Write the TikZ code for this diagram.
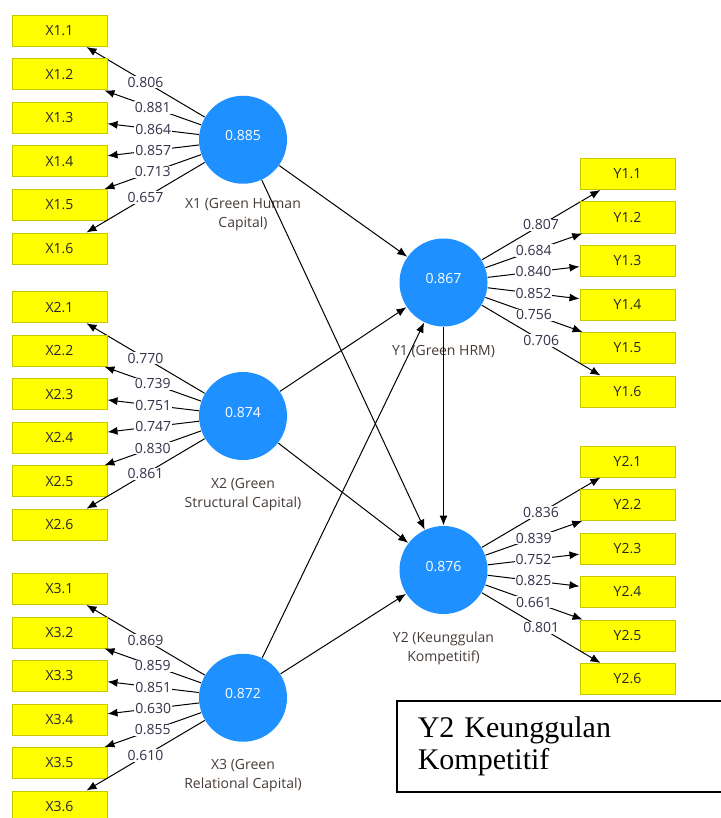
\documentclass[tikz,border=0pt]{standalone}
\usepackage{fontspec}
\setmainfont{Open Sans}
\newfontfamily\notefont{Liberation Serif}
\usetikzlibrary{positioning}
\usetikzlibrary{arrows.meta}

\definecolor{lvblue}{RGB}{30,144,255}
\definecolor{indyellow}{RGB}{255,255,0}
\definecolor{indborder}{RGB}{200,200,0}
\definecolor{loadtext}{RGB}{50,50,75}
\definecolor{nametext}{RGB}{70,60,55}

\tikzset{
  lv/.style = {circle, fill=lvblue, minimum size=88pt, inner sep=0pt, text=white,
               text height=10pt, text depth=8pt, font=\fontsize{14}{17}\selectfont},
  lvname/.style = {align=center, text=nametext, inner sep=0pt, font=\fontsize{14}{19}\selectfont},
  ind/.style = {rectangle, draw=indborder, line width=1pt, fill=indyellow, minimum width=95pt,
                minimum height=31pt, inner sep=0pt, text=black!85, font=\fontsize{14}{17}\selectfont},
  load/.style = {midway, fill=white, inner sep=1pt, text=loadtext, font=\fontsize{14}{17}\selectfont},
  notebox/.style = {draw=black, line width=1.5pt, anchor=north west, minimum width=340pt,
                    minimum height=91pt, text width=300pt, inner xsep=21pt, align=left,
                    font=\notefont\fontsize{30}{32}\selectfont}
}

\begin{document}
\begin{tikzpicture}[x=1pt, y=-1pt, line width=1pt, >={Latex[length=10pt,width=8pt]}]
\useasboundingbox (0,0) rectangle (720,818);

% latent variables
\node [lv] (x1) at (243, 139.75) {0.885};
\node [lv] (x2) at (243, 416) {0.874};
\node [lv] (x3) at (243, 697.75) {0.872};
\node [lv] (y1) at (443.5, 282.5) {0.867};
\node [lv] (y2) at (443.5, 570) {0.876};

\node [lvname, below=14pt of x1] (x1name) {X1 (Green Human\\Capital)};
\node [lvname, below=17pt of x2] (x2name) {X2 (Green\\Structural Capital)};
\node [lvname, below=17pt of x3] (x3name) {X3 (Green\\Relational Capital)};
\node [lvname, below=18pt of y1] (y1name) {Y1 (Green HRM)};
\node [lvname, below=17pt of y2] (y2name) {Y2 (Keunggulan\\Kompetitif)};

% inner model
\draw [black, ->] (x1)--(y1);
\draw [black, ->] (x1)--(y2);
\draw [black, ->] (x2)--(y1);
\draw [black, ->] (x2)--(y2);
\draw [black, ->] (x3)--(y1);
\draw [black, ->] (x3)--(y2);
\draw [black, ->] (y1)--(y2);

% outer model
\foreach \i/\v in {1/0.806, 2/0.881, 3/0.864, 4/0.857, 5/0.713, 6/0.657} {
  \node [ind] (x1-\i) at (59.5, {31+(\i-1)*43.5}) {X1.\i};
  \draw [black, ->] (x1)--(x1-\i) node [load] {\v};
}
\foreach \i/\v in {1/0.770, 2/0.739, 3/0.751, 4/0.747, 5/0.830, 6/0.861} {
  \node [ind] (x2-\i) at (59.5, {307.25+(\i-1)*43.5}) {X2.\i};
  \draw [black, ->] (x2)--(x2-\i) node [load] {\v};
}
\foreach \i/\v in {1/0.869, 2/0.859, 3/0.851, 4/0.630, 5/0.855, 6/0.610} {
  \node [ind] (x3-\i) at (59.5, {589+(\i-1)*43.5}) {X3.\i};
  \draw [black, ->] (x3)--(x3-\i) node [load] {\v};
}
\foreach \i/\v in {1/0.807, 2/0.684, 3/0.840, 4/0.852, 5/0.756, 6/0.706} {
  \node [ind] (y1-\i) at (627.5, {174+(\i-1)*43.5}) {Y1.\i};
  \draw [black, ->] (y1)--(y1-\i) node [load] {\v};
}
\foreach \i/\v in {1/0.836, 2/0.839, 3/0.752, 4/0.825, 5/0.661, 6/0.801} {
  \node [ind] (y2-\i) at (627.5, {461.5+(\i-1)*43.5}) {Y2.\i};
  \draw [black, ->] (y2)--(y2-\i) node [load] {\v};
}

\node [notebox] (note) at (396, 700) {Y2 Keunggulan\\Kompetitif};
\end{tikzpicture}
\end{document}
